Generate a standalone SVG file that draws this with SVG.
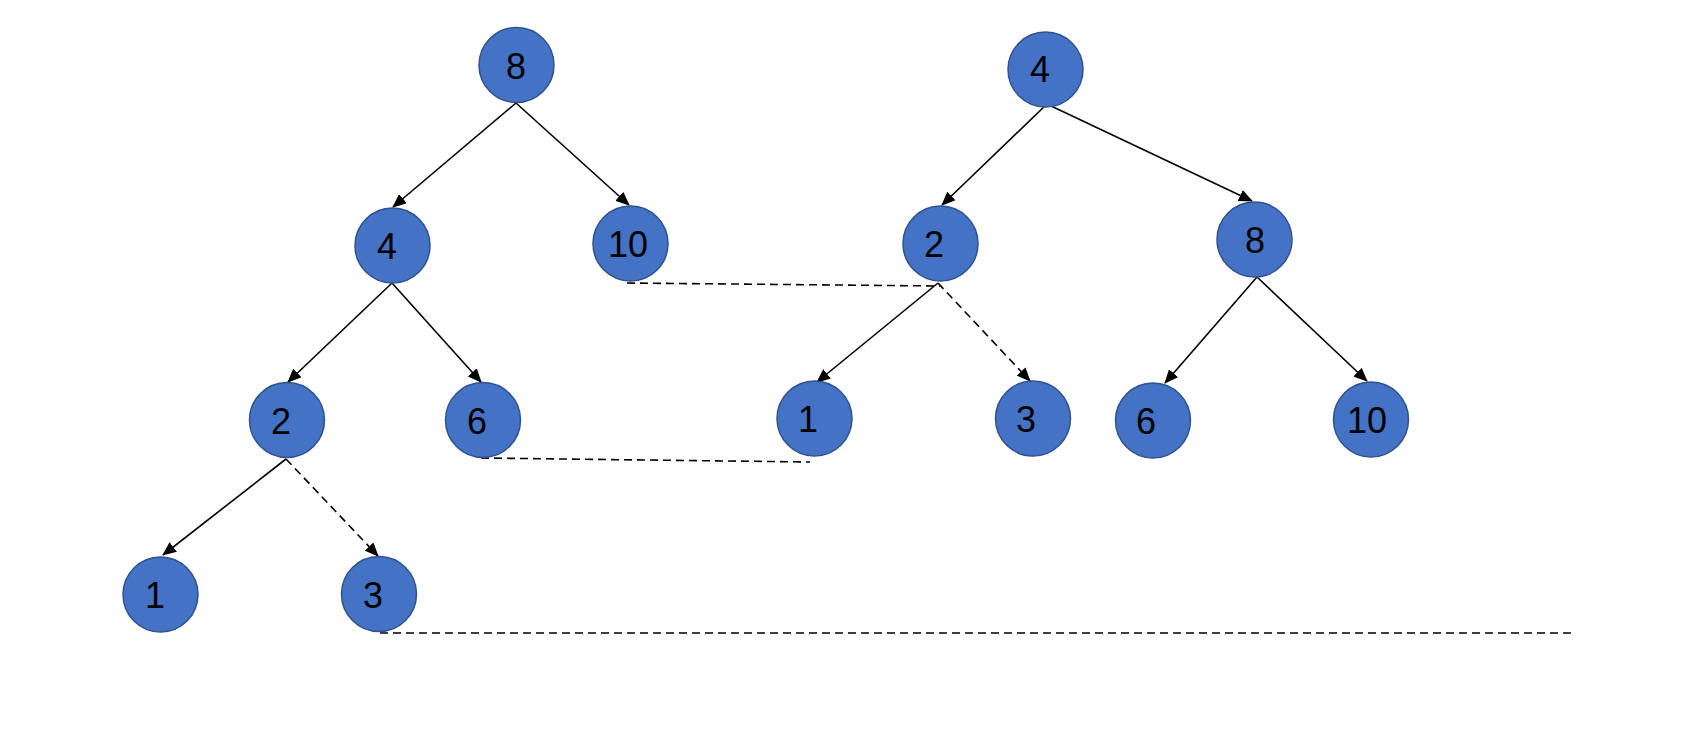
<svg xmlns="http://www.w3.org/2000/svg" width="1704" height="736" viewBox="0 0 1704 736">
<style>
.n{fill:#4472C4;stroke:#2F528F;stroke-width:1.5}
.t{font-family:"Liberation Sans",Arial,sans-serif;font-size:36px;fill:#000;text-anchor:middle}
.e{stroke:#000;stroke-width:1.6;fill:none;marker-end:url(#ah)}
.d{stroke:#000;stroke-width:1.6;fill:none;stroke-dasharray:8 5}
</style>
<defs>
<marker id="ah" markerUnits="userSpaceOnUse" markerWidth="14" markerHeight="12" refX="13" refY="6" orient="auto">
<path d="M0,0 L14,6 L0,12 Z" fill="#000"/>
</marker>
</defs>
<rect width="1704" height="736" fill="#fff"/>
<g id="connectors">
<line class="e" x1="516" y1="103" x2="393" y2="207"/>
<line class="e" x1="516" y1="103" x2="629" y2="205"/>
<line class="e" x1="392" y1="283" x2="288" y2="382"/>
<line class="e" x1="392" y1="283" x2="481" y2="382"/>
<line class="e" x1="286" y1="459" x2="163" y2="555"/>
<line class="e d" x1="286" y1="459" x2="378" y2="556"/>
<line class="e" x1="1046" y1="105" x2="942" y2="205"/>
<line class="e" x1="1049" y1="105" x2="1252" y2="201"/>
<line class="e" x1="938" y1="283" x2="817" y2="382"/>
<line class="e d" x1="938" y1="283" x2="1030" y2="381"/>
<line class="e" x1="1257" y1="277" x2="1165" y2="383"/>
<line class="e" x1="1257" y1="277" x2="1367" y2="381"/>
<line class="d" x1="627" y1="283" x2="940" y2="286"/>
<line class="d" x1="481" y1="458" x2="810" y2="462"/>
<line class="d" x1="380" y1="633" x2="1573" y2="633"/>
</g>
<g id="L8"><circle class="n" cx="516.5" cy="65" r="37.5"/><text class="t" x="516" y="79">8</text></g>
<g id="L4"><circle class="n" cx="392.5" cy="245.5" r="37.5"/><text class="t" x="387" y="259">4</text></g>
<g id="L10"><circle class="n" cx="630.5" cy="243.5" r="37.5"/><text class="t" x="628" y="257">10</text></g>
<g id="L2"><circle class="n" cx="287" cy="420" r="37.5"/><text class="t" x="281" y="434">2</text></g>
<g id="L6"><circle class="n" cx="483" cy="420" r="37.5"/><text class="t" x="477" y="434">6</text></g>
<g id="L1"><circle class="n" cx="160.5" cy="594.5" r="37.5"/><text class="t" x="155" y="608">1</text></g>
<g id="L3"><circle class="n" cx="379" cy="594" r="37.5"/><text class="t" x="373" y="608">3</text></g>
<g id="R4"><circle class="n" cx="1045.5" cy="69.5" r="37.5"/><text class="t" x="1040" y="82">4</text></g>
<g id="R2"><circle class="n" cx="940.5" cy="243.5" r="37.5"/><text class="t" x="934" y="257">2</text></g>
<g id="R8"><circle class="n" cx="1254.5" cy="239.5" r="37.5"/><text class="t" x="1255" y="253">8</text></g>
<g id="R1"><circle class="n" cx="814.5" cy="418.5" r="37.5"/><text class="t" x="808" y="432">1</text></g>
<g id="R3"><circle class="n" cx="1033" cy="418.5" r="37.5"/><text class="t" x="1026" y="432">3</text></g>
<g id="R6"><circle class="n" cx="1153" cy="420.5" r="37.5"/><text class="t" x="1146" y="434">6</text></g>
<g id="R10"><circle class="n" cx="1371" cy="419.5" r="37.5"/><text class="t" x="1367" y="433">10</text></g>
</svg>
